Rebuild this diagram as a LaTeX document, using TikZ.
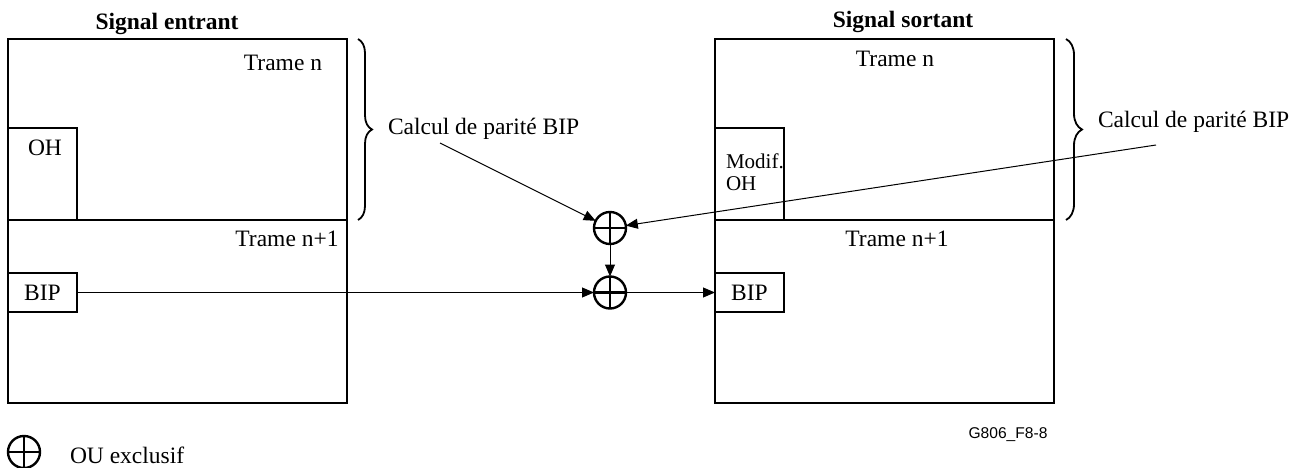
\documentclass[tikz,border=0pt]{standalone}
\usepackage{fontspec}
\setmainfont{Liberation Serif}
\setsansfont{Liberation Sans}
\usetikzlibrary{arrows.meta,decorations.pathreplacing}
\begin{document}
\begin{tikzpicture}[x=1pt,y=-1pt,
  every node/.style={font=\fontsize{23.5}{27}\selectfont, inner sep=0pt, outer sep=0pt},
  frame/.style={draw, line width=2.2pt},
  box/.style={draw, line width=2.2pt, minimum width=69, minimum height=39},
  ohbox/.style={draw, line width=2.2pt, minimum width=69, minimum height=92, anchor=north west},
  txt/.style={anchor=base},
  bold/.style={anchor=base, font=\fontsize{23.5}{27}\selectfont\bfseries},
  arr/.style={-{Triangle[length=12pt,width=10pt]}, line width=1pt},
  xor/.style={circle, draw, line width=2.4pt, minimum size=32,
    path picture={\draw[line width=2.8pt] (path picture bounding box.north) -- (path picture bounding box.south)
                   (path picture bounding box.west) -- (path picture bounding box.east);}},
  bracestyle/.style={decorate, decoration={brace, amplitude=#1}, line width=1.8pt}
]
\useasboundingbox (0,0) rectangle (1302,468);

% frames
\draw[frame] (8,39) rectangle (347,403);
\draw[frame] (8,220) -- (347,220);
\draw[frame] (715,39) rectangle (1054,403);
\draw[frame] (715,220) -- (1054,220);

% titles
\node[bold] (tL) at (167,30) {Signal entrant};
\node[bold] (tR) at (903,28) {Signal sortant};

% frame labels
\node[txt] (tnL) at (283,71) {Trame n};
\node[txt] (tn1L) at (287,247) {Trame n+1};
\node[txt] (tnR) at (895,67) {Trame n};
\node[txt] (tn1R) at (897,247) {Trame n+1};

% OH boxes
\node[ohbox] (ohL) at (8,128) {};
\node[txt] (ohLt) at (45,156) {OH};
\node[ohbox] (ohR) at (715,128) {};
\node[txt, anchor=base west, font=\fontsize{21}{22}\selectfont] (ohRt1) at (726,168) {Modif.};
\node[txt, anchor=base west, font=\fontsize{21}{22}\selectfont] (ohRt2) at (726,190) {OH};

% BIP boxes
\node[box] (bipL) at (42.5,292.5) {BIP};
\node[box] (bipR) at (749.5,292.5) {BIP};

% braces
\draw[bracestyle=14pt] (358,39) -- (358,220);
\draw[bracestyle=16pt] (1066,39) -- (1066,220);

% labels
\node[txt, anchor=base west] (lblL) at (388,135) {Calcul de parité BIP};
\node[txt, anchor=base west] (lblR) at (1098,128) {Calcul de parité BIP};
\coordinate (aL) at (440,143);
\coordinate (aR) at (1156,145);

% XOR
\node[xor] (x1) at (610,228) {};
\node[xor] (x2) at (610,292.5) {};

% connectors
\draw[arr] (aL) -- (x1);
\draw[arr] (aR) -- (x1);
\draw[arr] (x1) -- (x2);
\draw[arr] (bipL.east) -- (x2.west);
\draw[arr] (x2.east) -- (bipR.west);

% legend
\node[xor] (xl) at (24,452) {};
\node[txt, anchor=base west] (leg) at (70,463) {OU exclusif};
\node[anchor=base, font=\sffamily\fontsize{15.6}{18}\selectfont] (code) at (1008,438) {G806\_F8-8};
\end{tikzpicture}
\end{document}
